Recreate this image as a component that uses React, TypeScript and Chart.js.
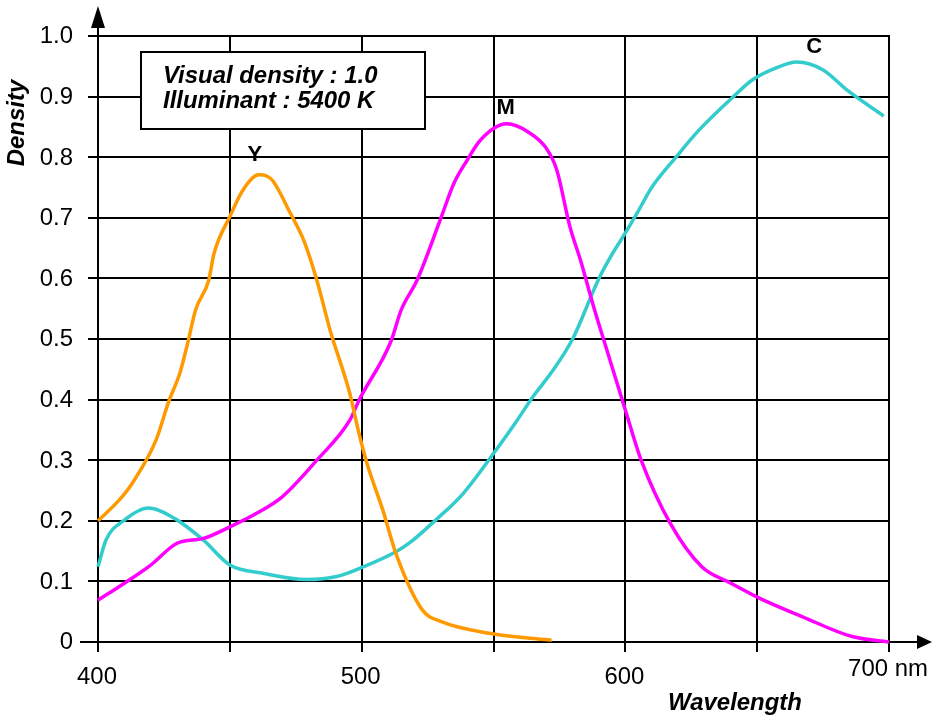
import React, { useEffect, useRef } from "react";
import { Chart, registerables } from "chart.js";

Chart.register(...registerables);

// ---- Data (wavelength in nm, density) ----
const yellowNm = [400, 408, 413, 422, 427, 431, 434, 437, 442, 444, 450, 455, 461, 464, 466.5, 473, 478, 483, 488, 495.5, 499, 502, 508, 513, 523, 530, 549, 564, 572];
const yellowDensity = [0.2, 0.234, 0.262, 0.333, 0.399, 0.443, 0.493, 0.548, 0.597, 0.641, 0.702, 0.746, 0.771, 0.769, 0.76, 0.707, 0.663, 0.597, 0.515, 0.41, 0.344, 0.295, 0.218, 0.146, 0.053, 0.034, 0.014, 0.006, 0.003];

const magentaNm = [400, 410, 420, 430, 440, 450, 460, 470, 483, 495.5, 499, 511, 515, 521, 530, 535, 540, 545, 555, 563, 570, 574, 579, 583, 588, 593, 600, 606, 617, 629, 640, 651, 667, 686, 700];
const magentaDensity = [0.069, 0.097, 0.127, 0.163, 0.171, 0.19, 0.212, 0.24, 0.3, 0.366, 0.399, 0.495, 0.548, 0.597, 0.699, 0.757, 0.795, 0.828, 0.855, 0.842, 0.815, 0.779, 0.685, 0.63, 0.553, 0.482, 0.383, 0.3, 0.196, 0.124, 0.097, 0.072, 0.042, 0.009, 0.0];

const cyanNm = [400, 403, 410, 419, 429, 440, 450, 463, 479, 490.5, 500.6, 513, 518, 528, 538.5, 550, 559, 565, 572, 580, 590, 595, 600, 605, 610, 619.4, 628, 641, 648, 657, 665, 675, 684, 698];
const cyanDensity = [0.124, 0.168, 0.201, 0.221, 0.204, 0.168, 0.127, 0.113, 0.103, 0.108, 0.124, 0.149, 0.163, 0.201, 0.245, 0.311, 0.366, 0.405, 0.445, 0.5, 0.6, 0.64, 0.675, 0.712, 0.75, 0.801, 0.845, 0.9, 0.927, 0.947, 0.957, 0.944, 0.911, 0.868];

// ---- Ticks / labels ----
const xTickValues = [400, 500, 600, 700];
const xTickLabels = ["400", "500", "600", "700 nm"];
const xGridValues = [400, 450, 500, 550, 600, 650, 700];
const yTickValues = [0, 0.1, 0.2, 0.3, 0.4, 0.5, 0.6, 0.7, 0.8, 0.9, 1.0];
const yTickLabels = ["0", "0.1", "0.2", "0.3", "0.4", "0.5", "0.6", "0.7", "0.8", "0.9", "1.0"];
const xTitle = "Wavelength";
const yTitle = "Density";
const noteLines = ["Visual density : 1.0", "Illuminant : 5400 K"];
const seriesNames = ["Y", "M", "C"];
const seriesLabelNm = [459.5, 554.6, 671.6];
const seriesLabelDensity = [0.804, 0.881, 0.982];
const seriesColors = ["#FF9900", "#FF00FF", "#33CCCC"];

const FONT = "Arial, 'Liberation Sans', sans-serif";
const SX = 1.04;

function stretchedText(ctx: any, text: string, x: number, y: number, sx: number) {
  ctx.save();
  ctx.translate(x, y);
  ctx.scale(sx, 1);
  ctx.fillText(text, 0, 0);
  ctx.restore();
}

const decorPlugin = {
  id: "decor",
  beforeDatasetsDraw(chart: any) {
    const { ctx, chartArea: a, scales } = chart;
    const x = scales.x;
    const y = scales.y;
    ctx.save();
    ctx.strokeStyle = "#000";
    ctx.fillStyle = "#000";
    ctx.lineWidth = 2;

    // horizontal grid lines
    yTickValues.forEach((v) => {
      const py = Math.round(y.getPixelForValue(v));
      ctx.beginPath();
      ctx.moveTo(v === 0 ? a.left - 18 : a.left - 10, py);
      ctx.lineTo(v === 0 ? a.right + 29 : a.right, py);
      ctx.stroke();
    });
    // vertical grid lines
    xGridValues.forEach((v) => {
      const px = Math.round(x.getPixelForValue(v));
      ctx.beginPath();
      ctx.moveTo(px, v === 400 ? a.top - 10 : a.top - 1);
      ctx.lineTo(px, a.bottom + 10);
      ctx.stroke();
    });

    // arrows
    const x0 = Math.round(x.getPixelForValue(400));
    const y0 = Math.round(y.getPixelForValue(0));
    ctx.beginPath();
    ctx.moveTo(x0, a.top - 30);
    ctx.lineTo(x0 - 7, a.top - 8);
    ctx.lineTo(x0 + 7, a.top - 8);
    ctx.closePath();
    ctx.fill();
    ctx.beginPath();
    ctx.moveTo(a.right + 43, y0);
    ctx.lineTo(a.right + 28, y0 - 7);
    ctx.lineTo(a.right + 28, y0 + 7);
    ctx.closePath();
    ctx.fill();

    // y tick labels
    ctx.font = `23px ${FONT}`;
    ctx.textAlign = "right";
    ctx.textBaseline = "middle";
    yTickValues.forEach((v, i) => {
      stretchedText(ctx, yTickLabels[i], a.left - 25, y.getPixelForValue(v) + 1, SX);
    });
    // x tick labels
    ctx.textAlign = "center";
    xTickValues.forEach((v, i) => {
      const last = i === xTickValues.length - 1;
      stretchedText(ctx, xTickLabels[i], x.getPixelForValue(v) - 1, a.bottom + (last ? 28 : 36), SX);
    });

    // axis titles
    ctx.font = `italic bold 23px ${FONT}`;
    stretchedText(ctx, xTitle, 735, a.bottom + 62, SX);
    ctx.save();
    ctx.translate(18, 123);
    ctx.rotate(-Math.PI / 2);
    stretchedText(ctx, yTitle, 0, 0, SX);
    ctx.restore();

    // note box
    ctx.fillStyle = "#fff";
    ctx.fillRect(141, 52, 284, 77);
    ctx.strokeRect(141, 52, 284, 77);
    ctx.fillStyle = "#000";
    ctx.textAlign = "left";
    ctx.textBaseline = "alphabetic";
    ctx.font = `italic bold 23px ${FONT}`;
    noteLines.forEach((t, i) => stretchedText(ctx, t, 163, 83 + i * 25, SX));

    // series labels
    ctx.font = `bold 22px ${FONT}`;
    ctx.textAlign = "center";
    ctx.textBaseline = "middle";
    seriesNames.forEach((n, i) => {
      ctx.fillText(n, x.getPixelForValue(seriesLabelNm[i]), y.getPixelForValue(seriesLabelDensity[i]));
    });
    ctx.restore();
  },
};

function toPoints(xs: number[], ys: number[]) {
  return xs.map((v, i) => ({ x: v, y: ys[i] }));
}

export default function App() {
  const ref = useRef<HTMLCanvasElement | null>(null);
  useEffect(() => {
    if (!ref.current) return;
    const series = [
      toPoints(yellowNm, yellowDensity),
      toPoints(magentaNm, magentaDensity),
      toPoints(cyanNm, cyanDensity),
    ];
    const chart = new Chart(ref.current, {
      type: "line",
      data: {
        datasets: series.map((d, i) => ({
          label: seriesNames[i],
          data: d,
          borderColor: seriesColors[i],
          backgroundColor: seriesColors[i],
          borderWidth: 3.5,
          pointRadius: 0,
          cubicInterpolationMode: "monotone" as const,
          fill: false,
          clip: false as any,
        })),
      },
      options: {
        responsive: false,
        animation: false,
        devicePixelRatio: 1,
        layout: { padding: { left: 98, top: 36, right: 44, bottom: 80 } },
        plugins: { legend: { display: false }, tooltip: { enabled: false } },
        scales: {
          x: { type: "linear", min: 400, max: 700, display: false },
          y: { type: "linear", min: 0, max: 1, display: false },
        },
      },
      plugins: [decorPlugin],
    });
    return () => chart.destroy();
  }, []);
  return (
    <div style={{ position: "absolute", left: 0, top: 0, width: 933, height: 722, background: "#fff" }}>
      <canvas ref={ref} width={933} height={722} />
    </div>
  );
}
